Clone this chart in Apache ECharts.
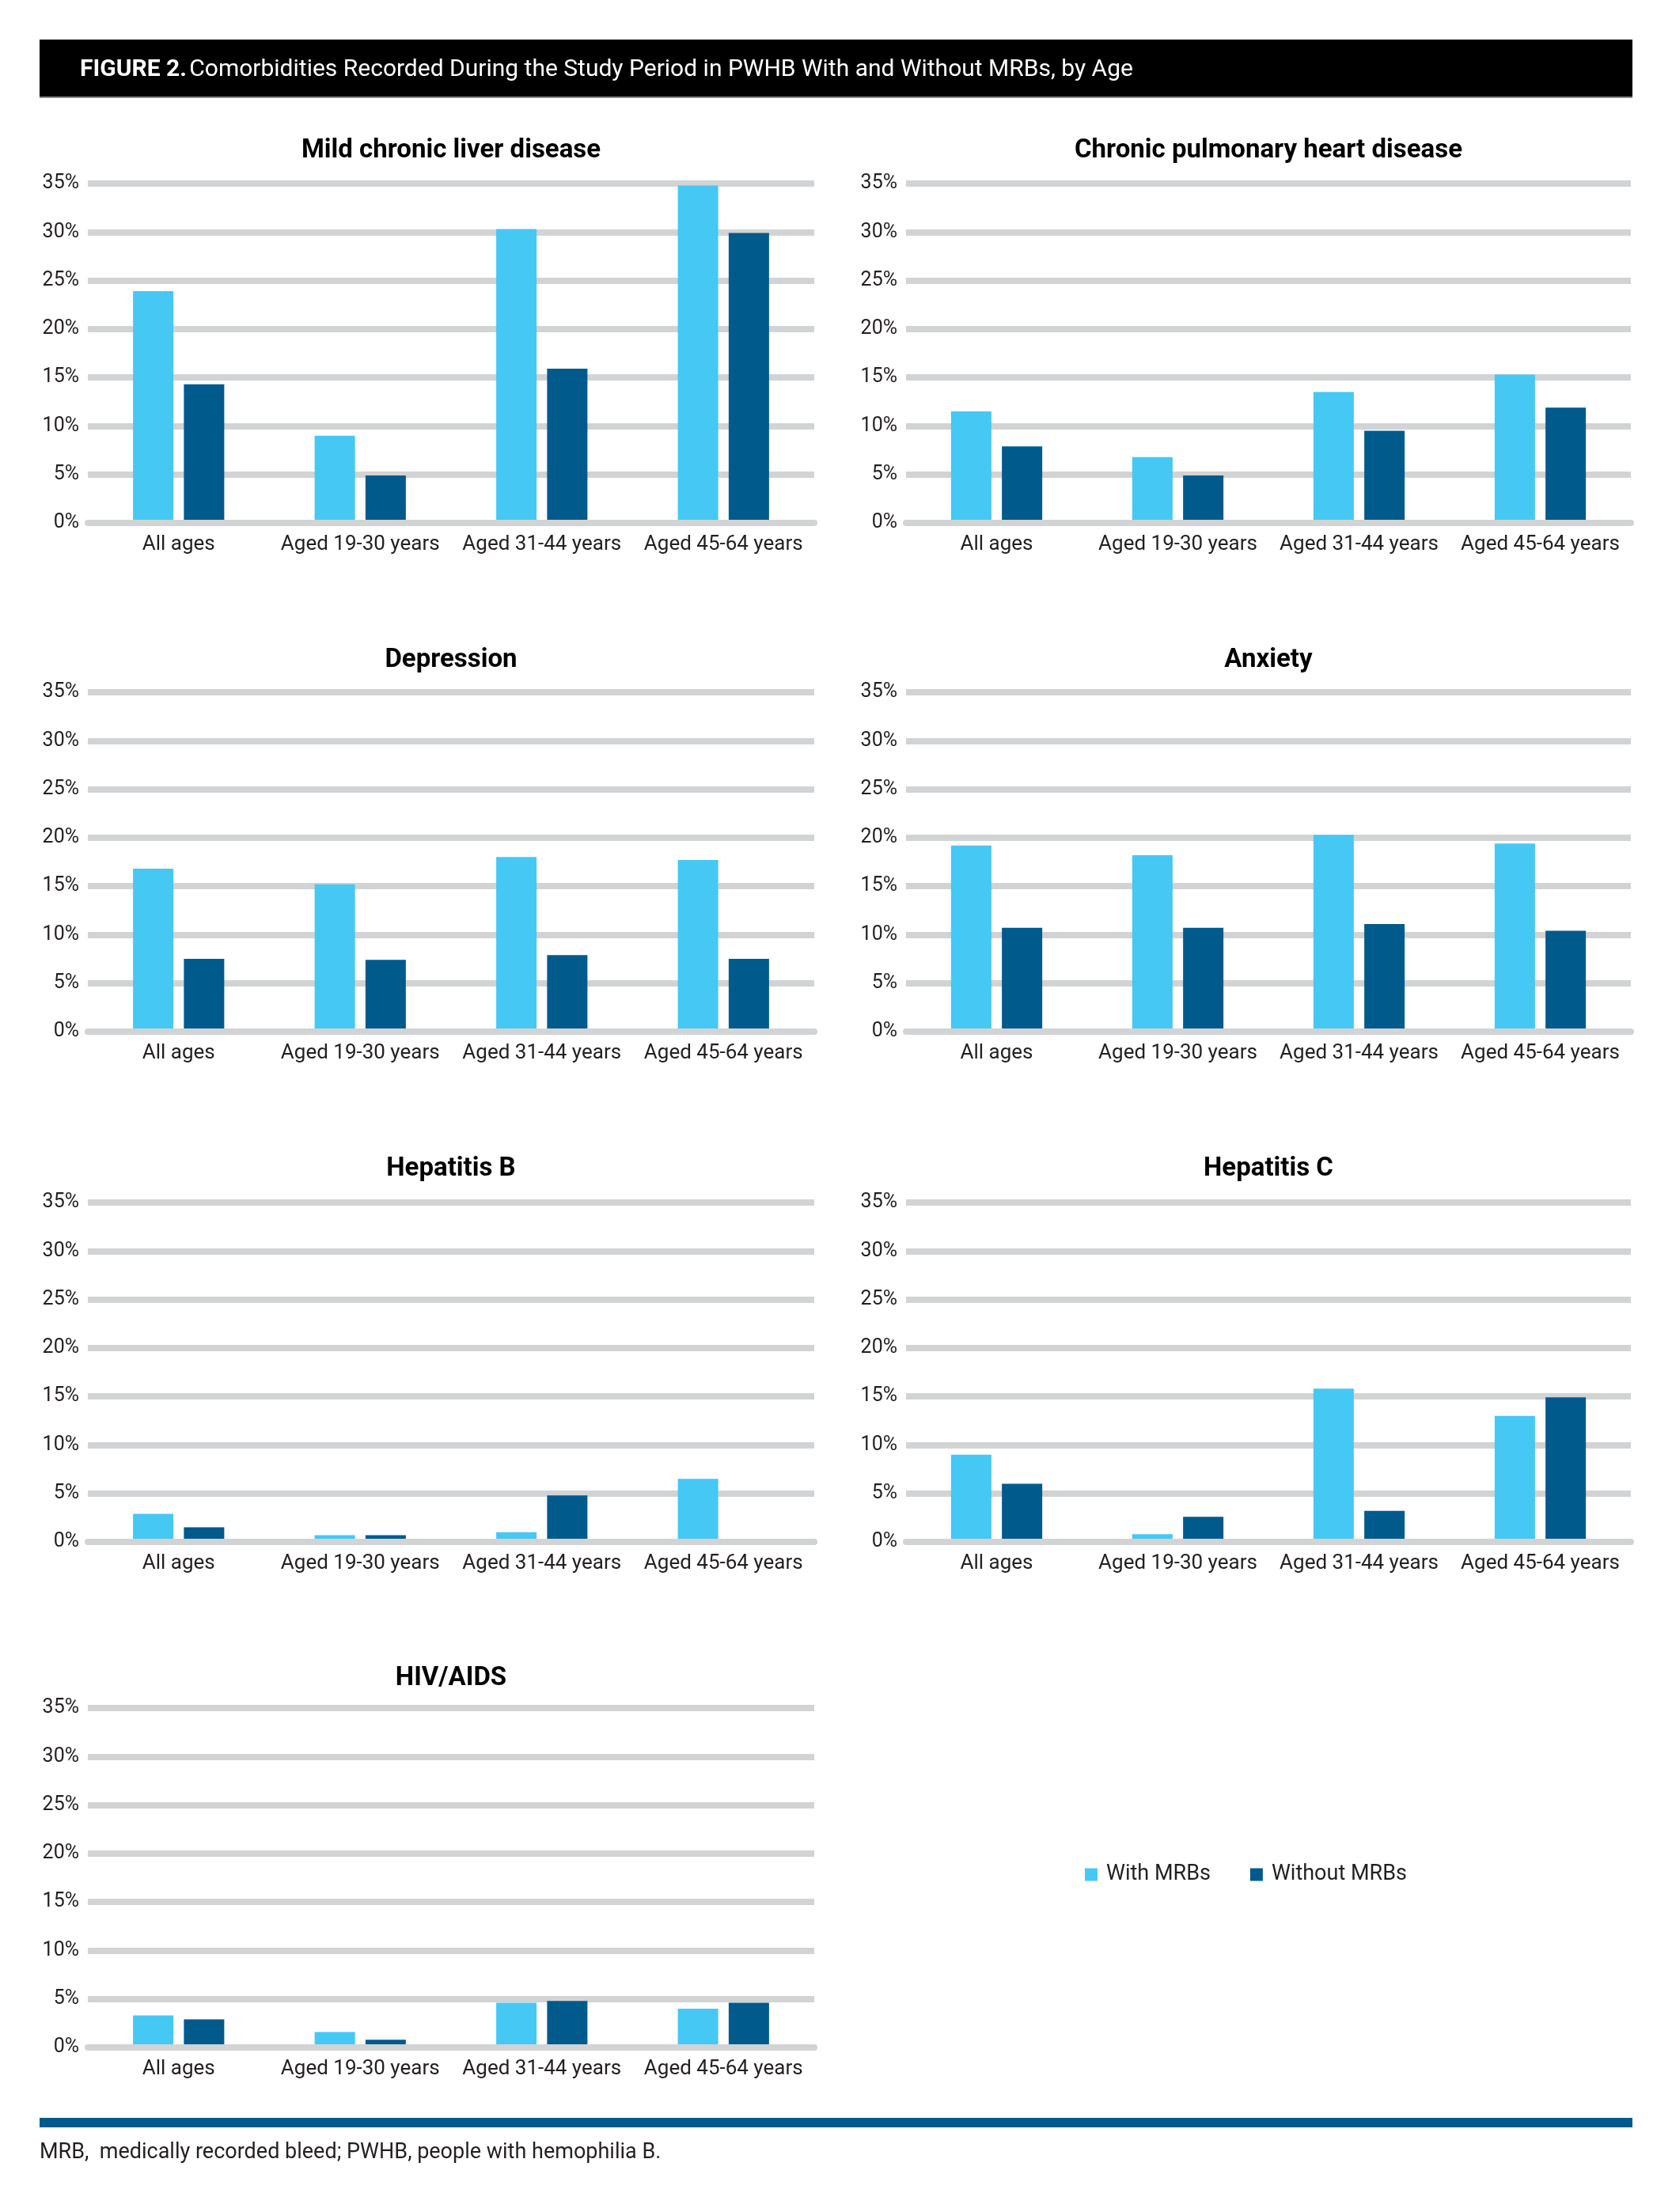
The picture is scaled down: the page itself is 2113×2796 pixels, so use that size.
<!DOCTYPE html>
<html>
<head>
<meta charset="utf-8">
<script src="https://cdn.jsdelivr.net/npm/echarts@6/dist/echarts.min.js"></script>
<style>
  html, body { margin: 0; padding: 0; background: #ffffff; }
  #chart { width: 2113px; height: 2796px; }
</style>
</head>
<body>
<div id="chart"></div>
<script>
// ---- Data ----
const categories = ['All ages', 'Aged 19-30 years', 'Aged 31-44 years', 'Aged 45-64 years'];
const seriesNames = ['With MRBs', 'Without MRBs'];
const panelTitles = ['Mild chronic liver disease', 'Chronic pulmonary heart disease', 'Depression', 'Anxiety', 'Hepatitis B', 'Hepatitis C', 'HIV/AIDS'];
const yTicks = [0, 5, 10, 15, 20, 25, 30, 35];

const liverWith = [23.9, 9.0, 30.3, 34.8];
const liverWithout = [14.3, 4.9, 15.9, 29.9];
const pulmonaryWith = [11.5, 6.8, 13.5, 15.3];
const pulmonaryWithout = [7.9, 4.9, 9.5, 11.9];
const depressionWith = [16.8, 15.2, 18.0, 17.7];
const depressionWithout = [7.5, 7.4, 7.9, 7.5];
const anxietyWith = [19.2, 18.2, 20.3, 19.4];
const anxietyWithout = [10.7, 10.7, 11.1, 10.4];
const hepBWith = [2.9, 0.7, 1.0, 6.5];
const hepBWithout = [1.5, 0.7, 4.8, 0];
const hepCWith = [9.0, 0.8, 15.8, 13.0];
const hepCWithout = [6.0, 2.6, 3.2, 14.9];
const hivWith = [3.3, 1.6, 4.6, 4.0];
const hivWithout = [2.9, 0.8, 4.8, 4.6];

const panelWith = [liverWith, pulmonaryWith, depressionWith, anxietyWith, hepBWith, hepCWith, hivWith];
const panelWithout = [liverWithout, pulmonaryWithout, depressionWithout, anxietyWithout, hepBWithout, hepCWithout, hivWithout];

// ---- Layout / style ----
const FONT = 'Roboto, "Noto Sans", "DejaVu Sans", sans-serif';
const TEXT = '#231f20';
const GRIDC = '#d1d3d4';
const LIGHT = '#45c8f4';
const DARK = '#005a8c';
const colLeft = [111, 1145];
const colWidth = [918, 916];
const rowTop = [232, 875, 1520, 2159];
const plotH = 429;
const titleY = [191, 835, 1478, 2122];

const grids = [], xAxes = [], yAxes = [], series = [], graphics = [];

// header
graphics.push({ type: 'rect', shape: { x: 50, y: 50, width: 2013, height: 72 }, style: { fill: '#000000' } });
graphics.push({ type: 'rect', shape: { x: 50, y: 122, width: 2013, height: 2 }, style: { fill: '#8a8a8a' } });
graphics.push({
  type: 'text', x: 101, y: 88,
  style: {
    text: '{b|FIGURE 2.} {r|Comorbidities Recorded During the Study Period in PWHB With and Without MRBs, by Age}',
    verticalAlign: 'middle', align: 'left',
    rich: {
      b: { fontFamily: FONT, fontSize: 30, fontWeight: 'bold', fill: '#ffffff', color: '#ffffff' },
      r: { fontFamily: FONT, fontSize: 30, fill: '#ffffff', color: '#ffffff' }
    }
  }
});

for (let i = 0; i < panelTitles.length; i++) {
  const col = i % 2, row = Math.floor(i / 2);
  grids.push({ left: colLeft[col], top: rowTop[row], width: colWidth[col], height: plotH, containLabel: false });
  xAxes.push({
    type: 'category', gridIndex: i, data: categories, z: 5,
    axisLine: { show: true, lineStyle: { color: GRIDC, width: 8 } },
    axisTick: { show: false },
    axisLabel: { fontFamily: FONT, fontSize: 26, color: TEXT, margin: 14, interval: 0 },
    splitLine: { show: false }
  });
  yAxes.push({
    type: 'value', gridIndex: i, min: 0, max: 35, interval: 5,
    axisLine: { show: false }, axisTick: { show: false },
    axisLabel: { fontFamily: FONT, fontSize: 25, color: TEXT, margin: 11, formatter: v => v + '%' },
    splitLine: { show: true, lineStyle: { color: GRIDC, width: 8 } }
  });
  series.push({
    type: 'bar', name: seriesNames[0], xAxisIndex: i, yAxisIndex: i,
    data: panelWith[i], barWidth: 51, barGap: '26%',
    itemStyle: { color: LIGHT }, emphasis: { disabled: true }, silent: true
  });
  series.push({
    type: 'bar', name: seriesNames[1], xAxisIndex: i, yAxisIndex: i,
    data: panelWithout[i], barWidth: 51, barGap: '26%',
    itemStyle: { color: DARK }, emphasis: { disabled: true }, silent: true
  });
  graphics.push({
    type: 'text', x: colLeft[col] + colWidth[col] / 2, y: titleY[row],
    style: { text: panelTitles[i], fontFamily: FONT, fontSize: 33, fontWeight: 'bold', fill: '#000000', align: 'center', verticalAlign: 'middle' }
  });
}

// footer
graphics.push({ type: 'rect', shape: { x: 50, y: 2677, width: 2013, height: 12 }, style: { fill: DARK } });
graphics.push({
  type: 'text', x: 50, y: 2721,
  style: { text: 'MRB,  medically recorded bleed; PWHB, people with hemophilia B.', fontFamily: FONT, fontSize: 27, fill: TEXT, align: 'left', verticalAlign: 'middle' }
});

const chart = echarts.init(document.getElementById('chart'), null, { renderer: 'canvas' });
chart.setOption({
  backgroundColor: '#ffffff',
  animation: false,
  legend: {
    data: seriesNames, left: 1366, top: 2351, orient: 'horizontal',
    icon: 'rect', itemWidth: 16, itemHeight: 16, itemGap: 50,
    textStyle: { fontFamily: FONT, fontSize: 27, color: TEXT, padding: [0, 0, 0, 6] },
    selectedMode: false
  },
  grid: grids,
  xAxis: xAxes,
  yAxis: yAxes,
  series: series,
  graphic: graphics
});
</script>
</body>
</html>
